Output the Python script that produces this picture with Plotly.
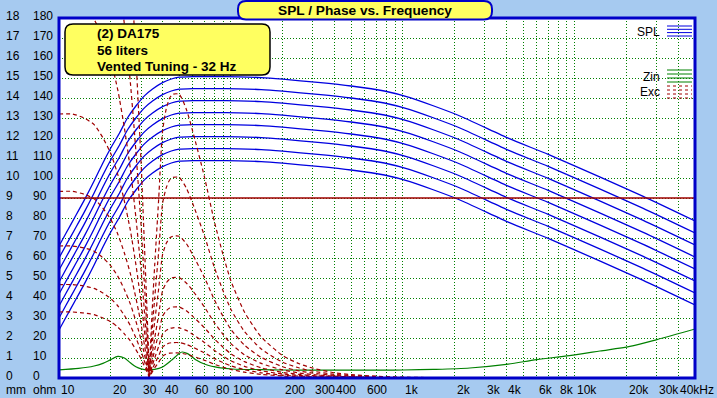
import math
import plotly.graph_objects as go

# ---------------- data ----------------
# SPL (dB) vs frequency, eight input levels
F_SPL = [10, 11, 12.5, 14, 16, 18, 20, 22.5, 25, 28, 31.5, 35, 40, 45, 50, 60, 80, 110, 150, 200,
         320, 500, 780, 1100, 2080, 4130, 7000, 14160, 25000, 50000]
SPL_1 = [24, 30.5, 39.1, 46.8, 56.5, 65.5, 73, 80.5, 88, 94, 99.2, 102.5, 105.7, 107.5, 108.4, 108.7, 108.7, 108.6, 108.2, 107.4,
         105.8, 104, 101.5, 98.2, 89.5, 77.8, 69.8, 58.3, 48.8, 36.5]
SPL_2 = [30, 36.5, 45.1, 52.8, 62.5, 71.5, 79, 86.5, 94, 100, 105.2, 108.5, 111.7, 113.5, 114.4, 114.7, 114.7, 114.6, 114.2, 113.4,
         111.8, 110, 107.5, 104.2, 95.5, 83.8, 75.8, 64.3, 54.8, 42.5]
SPL_3 = [36, 42.5, 51.1, 58.8, 68.5, 77.5, 85, 92.5, 100, 106, 111.2, 114.5, 117.7, 119.5, 120.4, 120.7, 120.7, 120.6, 120.2, 119.4,
         117.8, 116, 113.5, 110.2, 101.5, 89.8, 81.8, 70.3, 60.8, 48.5]
SPL_4 = [42, 48.5, 57.1, 64.8, 74.5, 83.5, 91, 98.5, 106, 112, 117.2, 120.5, 123.7, 125.5, 126.4, 126.7, 126.7, 126.6, 126.2, 125.4,
         123.8, 122, 119.5, 116.2, 107.5, 95.8, 87.8, 76.3, 66.8, 54.5]
SPL_5 = [48, 54.5, 63.1, 70.8, 80.5, 89.5, 97, 104.5, 112, 118, 123.2, 126.5, 129.7, 131.5, 132.4, 132.7, 132.7, 132.6, 132.2, 131.4,
         129.8, 128, 125.5, 122.2, 113.5, 101.8, 93.8, 82.3, 72.8, 60.5]
SPL_6 = [54, 60.5, 69.1, 76.8, 86.5, 95.5, 103, 110.5, 118, 124, 129.2, 132.5, 135.7, 137.5, 138.4, 138.7, 138.7, 138.6, 138.2, 137.4,
         135.8, 134, 131.5, 128.2, 119.5, 107.8, 99.8, 88.3, 78.8, 66.5]
SPL_7 = [60, 66.5, 75.1, 82.8, 92.5, 101.5, 109, 116.5, 124, 130, 135.2, 138.5, 141.7, 143.5, 144.4, 144.7, 144.7, 144.6, 144.2, 143.4,
         141.8, 140, 137.5, 134.2, 125.5, 113.8, 105.8, 94.3, 84.8, 72.5]
SPL_8 = [66, 72.5, 81.1, 88.8, 98.5, 107.5, 115, 122.5, 130, 136, 141.2, 144.5, 147.7, 149.5, 150.4, 150.7, 150.7, 150.6, 150.2, 149.4,
         147.8, 146, 143.5, 140.2, 131.5, 119.8, 111.8, 100.3, 90.8, 78.5]
SPL_SERIES = [SPL_1, SPL_2, SPL_3, SPL_4, SPL_5, SPL_6, SPL_7, SPL_8]

# Impedance (ohm)
F_ZIN = [10, 13, 16, 18, 20, 22, 24, 26, 28, 30, 33, 36, 40, 45, 50, 52, 56, 62, 72, 85, 102, 150, 200, 300, 500,
         800, 1000, 1500, 2450, 4000, 6000, 9300, 14000, 20900, 30000, 50000]
ZIN = [4.1, 4.8, 6.0, 7.3, 9.2, 10.8, 10.0, 7.6, 5.6, 4.6, 4.1, 4.3, 5.5, 8.8, 12.3, 13.0, 12.2, 9.3, 6.6, 5.2, 4.5, 4.2, 4.0, 3.9, 3.9,
       3.9, 4.0, 4.3, 5.0, 6.8, 9.2, 11.2, 13.5, 15.8, 19.2, 24.5]

# Cone excursion (mm), eight input levels
F_EXC = [10, 12, 14, 16, 18, 20, 22, 24, 26, 28, 29, 30, 31, 32, 33, 33.5, 34, 35, 36, 38,
         40, 42, 44, 46, 50, 55, 60, 70, 80, 90, 100, 120, 150, 200, 250, 300, 400, 500, 700, 1000,
         2000, 5000, 50000]
EXC_1 = [3.30, 3.30, 3.25, 3.17, 3.00, 2.81, 2.54, 2.21, 1.85, 1.42, 1.19, 0.96, 0.69, 0.43, 0.17, 0.03, 0.13, 0.33, 0.50, 0.79,
         1.09, 1.19, 1.24, 1.25, 1.25, 1.19, 1.09, 0.89, 0.69, 0.54, 0.43, 0.29, 0.18, 0.10, 0.06, 0.04, 0.02, 0.01, 0.01, 0.0,
         0.0, 0.0, 0.0]
EXC_2 = [4.67, 4.67, 4.60, 4.48, 4.25, 3.97, 3.60, 3.13, 2.62, 2.01, 1.68, 1.35, 0.98, 0.61, 0.23, 0.05, 0.19, 0.47, 0.70, 1.12,
         1.54, 1.68, 1.75, 1.77, 1.77, 1.68, 1.54, 1.26, 0.98, 0.77, 0.61, 0.41, 0.26, 0.14, 0.09, 0.06, 0.03, 0.02, 0.01, 0.01,
         0.0, 0.0, 0.0]
EXC_3 = [6.60, 6.60, 6.50, 6.34, 6.01, 5.61, 5.08, 4.42, 3.70, 2.84, 2.38, 1.91, 1.39, 0.86, 0.33, 0.07, 0.26, 0.66, 0.99, 1.58,
         2.18, 2.38, 2.48, 2.51, 2.51, 2.38, 2.18, 1.78, 1.39, 1.09, 0.86, 0.58, 0.36, 0.20, 0.13, 0.09, 0.05, 0.03, 0.02, 0.01,
         0.0, 0.0, 0.0]
EXC_4 = [9.33, 9.33, 9.19, 8.96, 8.49, 7.93, 7.18, 6.25, 5.22, 4.01, 3.36, 2.71, 1.96, 1.21, 0.47, 0.09, 0.37, 0.93, 1.40, 2.24,
         3.08, 3.36, 3.50, 3.55, 3.55, 3.36, 3.08, 2.52, 1.96, 1.54, 1.21, 0.82, 0.51, 0.28, 0.18, 0.12, 0.07, 0.04, 0.02, 0.01,
         0.0, 0.0, 0.0]
EXC_5 = [13.20, 13.20, 13.00, 12.67, 12.01, 11.22, 10.16, 8.84, 7.39, 5.68, 4.75, 3.83, 2.77, 1.72, 0.66, 0.13, 0.53, 1.32, 1.98, 3.17,
         4.36, 4.75, 4.95, 5.02, 5.02, 4.75, 4.36, 3.56, 2.77, 2.18, 1.72, 1.16, 0.73, 0.40, 0.25, 0.17, 0.09, 0.06, 0.03, 0.01,
         0.0, 0.0, 0.0]
EXC_6 = [18.67, 18.67, 18.39, 17.92, 16.99, 15.87, 14.38, 12.51, 10.46, 8.03, 6.72, 5.41, 3.92, 2.43, 0.93, 0.19, 0.75, 1.87, 2.80, 4.48,
         6.16, 6.72, 7.00, 7.09, 7.09, 6.72, 6.16, 5.04, 3.92, 3.08, 2.43, 1.64, 1.03, 0.56, 0.35, 0.24, 0.13, 0.08, 0.04, 0.02,
         0.01, 0.0, 0.0]
EXC_7 = [26.40, 26.40, 26.00, 25.34, 24.02, 22.44, 20.33, 17.69, 14.78, 11.35, 9.50, 7.66, 5.54, 3.43, 1.32, 0.26, 1.06, 2.64, 3.96, 6.34,
         8.71, 9.50, 9.90, 10.03, 10.03, 9.50, 8.71, 7.13, 5.54, 4.36, 3.43, 2.32, 1.45, 0.79, 0.50, 0.34, 0.18, 0.12, 0.06, 0.03,
         0.01, 0.0, 0.0]
EXC_8 = [37.34, 37.34, 36.78, 35.85, 33.98, 31.74, 28.75, 25.02, 20.91, 16.06, 13.44, 10.83, 7.84, 4.85, 1.87, 0.37, 1.49, 3.73, 5.60, 8.96,
         12.32, 13.44, 14.00, 14.19, 14.19, 13.44, 12.32, 10.08, 7.84, 6.16, 4.85, 3.29, 2.05, 1.12, 0.71, 0.49, 0.26, 0.17, 0.09, 0.04,
         0.01, 0.0, 0.0]
EXC_SERIES = [EXC_1, EXC_2, EXC_3, EXC_4, EXC_5, EXC_6, EXC_7, EXC_8]

XMAX_MM = 9.0  # excursion limit line

# axis tick labels
X_TICK_VALUES = [10, 20, 30, 40, 60, 80, 100, 200, 300, 400, 600, 1000, 2000, 3000, 4000, 6000, 8000,
                 10000, 20000, 30000, 40000]
X_TICK_TEXT = ["10", "20", "30", "40", "60", "80", "100", "200", "300", "400", "600", "1k", "2k", "3k", "4k",
               "6k", "8k", "10k", "20k", "30k", "40kHz"]
OHM_TICKS = [0, 10, 20, 30, 40, 50, 60, 70, 80, 90, 100, 110, 120, 130, 140, 150, 160, 170, 180]
MM_TICKS = [0, 1, 2, 3, 4, 5, 6, 7, 8, 9, 10, 11, 12, 13, 14, 15, 16, 17, 18]
X_GRID = [m * d for d in (10, 100, 1000, 10000) for m in range(1, 10)] + [50000]

TITLE = "SPL / Phase vs. Frequency"
INFO = ["(2) DA175", "56 liters", "Vented Tuning - 32 Hz"]

# ---------------- layout helpers (pixel -> paper) ----------------
W, H = 717, 398
ML, MR, MT, MB = 59, 22, 18, 20
PW, PH = W - ML - MR, H - MT - MB


def px(x):
    return (x - ML) / PW


def py(y):
    return (H - MB - y) / PH


def rounded_path(x0, y0, x1, y1, r):
    pts = [
        ("M", [(x0 + r, y0)]), ("L", [(x1 - r, y0)]), ("Q", [(x1, y0), (x1, y0 + r)]),
        ("L", [(x1, y1 - r)]), ("Q", [(x1, y1), (x1 - r, y1)]), ("L", [(x0 + r, y1)]),
        ("Q", [(x0, y1), (x0, y1 - r)]), ("L", [(x0, y0 + r)]), ("Q", [(x0, y0), (x0 + r, y0)]),
    ]
    s = ""
    for cmd, ps in pts:
        s += cmd + " " + " ".join(f"{px(a):.5f},{py(b):.5f}" for a, b in ps) + " "
    return s + "Z"


FONT = "Liberation Sans, Arial, sans-serif"
BLUE = "#0000E0"
RED = "#A00000"
GREEN = "#008000"

fig = go.Figure()

for ys in EXC_SERIES:
    fig.add_trace(go.Scatter(x=F_EXC, y=ys, yaxis="y2", mode="lines",
                             line=dict(color=RED, width=1.2, dash="4px,3px", shape="spline", smoothing=0.6),
                             hoverinfo="skip", showlegend=False))

fig.add_trace(go.Scatter(x=[F_SPL[0], F_SPL[-1]], y=[XMAX_MM, XMAX_MM], yaxis="y2", mode="lines",
                         line=dict(color=RED, width=1.5), hoverinfo="skip", showlegend=False))

fig.add_trace(go.Scatter(x=F_ZIN, y=ZIN, mode="lines",
                         line=dict(color=GREEN, width=1.2, shape="spline", smoothing=0.8),
                         hoverinfo="skip", showlegend=False))

for ys in SPL_SERIES:
    fig.add_trace(go.Scatter(x=F_SPL, y=ys, mode="lines",
                             line=dict(color=BLUE, width=1.3, shape="spline", smoothing=0.6),
                             hoverinfo="skip", showlegend=False))

shapes = []
# plot frame
shapes.append(dict(type="rect", xref="paper", yref="paper", x0=0, x1=1, y0=0, y1=1,
                   line=dict(color="#0000C8", width=3), layer="above"))
# title box
shapes.append(dict(type="path", xref="paper", yref="paper", path=rounded_path(238, 1, 492, 19.5, 8),
                   fillcolor="#FFFF60", line=dict(color="#0000C8", width=2), layer="above"))
# info box
shapes.append(dict(type="path", xref="paper", yref="paper", path=rounded_path(65, 24, 270, 75, 8),
                   fillcolor="#FFFF60", line=dict(color="black", width=1.5), layer="above"))
# legend glyphs
for yy in (26, 29.3, 32.6, 36):
    shapes.append(dict(type="line", xref="paper", yref="paper", x0=px(667), x1=px(692), y0=py(yy), y1=py(yy),
                       line=dict(color=BLUE, width=1), layer="above"))
for yy in (70, 74, 78, 82):
    shapes.append(dict(type="line", xref="paper", yref="paper", x0=px(667), x1=px(692), y0=py(yy), y1=py(yy),
                       line=dict(color=GREEN, width=1), layer="above"))
for yy in (86, 90, 94, 98):
    shapes.append(dict(type="line", xref="paper", yref="paper", x0=px(667), x1=px(692), y0=py(yy), y1=py(yy),
                       line=dict(color=RED, width=1, dash="3px,3px"), layer="above"))

ann = []
ann.append(dict(text="<b>" + TITLE + "</b>", xref="paper", yref="paper", x=px(365), y=py(10), showarrow=False,
                xanchor="center", yanchor="middle", font=dict(family=FONT, size=13.7, color="black")))
for i, line in enumerate(INFO):
    ann.append(dict(text="<b>" + line + "</b>", xref="paper", yref="paper", x=px(95), y=py(34 + 16.5 * i),
                    showarrow=False, xanchor="left", yanchor="middle",
                    font=dict(family=FONT, size=13.5, color="black")))
for txt, yy in (("SPL", 32), ("Zin", 77), ("Exc", 91.5)):
    ann.append(dict(text=txt, xref="paper", yref="paper", x=px(662), y=py(yy), showarrow=False,
                    xanchor="right", yanchor="middle", font=dict(family=FONT, size=12, color="black")))
for v, t in zip(X_TICK_VALUES, X_TICK_TEXT):
    ann.append(dict(text=t, xref="x", yref="paper", x=math.log10(v), y=py(390), xshift=0, showarrow=False,
                    xanchor="left", yanchor="middle", font=dict(family=FONT, size=12, color="black")))
for o, m in zip(OHM_TICKS, MM_TICKS):
    ann.append(dict(text=str(o), xref="paper", yref="y", x=px(31), y=o, yshift=2.5, showarrow=False,
                    xanchor="left", yanchor="middle", font=dict(family=FONT, size=12, color="black")))
    ann.append(dict(text=str(m), xref="paper", yref="y", x=px(4), y=o, yshift=2.5, showarrow=False,
                    xanchor="left", yanchor="middle", font=dict(family=FONT, size=12, color="black")))
ann.append(dict(text="mm", xref="paper", yref="paper", x=px(4), y=py(390), showarrow=False,
                xanchor="left", yanchor="middle", font=dict(family=FONT, size=12, color="black")))
ann.append(dict(text="ohm", xref="paper", yref="paper", x=px(31), y=py(390), showarrow=False,
                xanchor="left", yanchor="middle", font=dict(family=FONT, size=12, color="black")))

grid = dict(showgrid=True, gridcolor=GREEN, gridwidth=1, griddash="1px,2px", zeroline=False,
            showline=False, ticks="", showticklabels=False)

fig.update_layout(
    width=W, height=H, autosize=False,
    margin=dict(l=ML, r=MR, t=MT, b=MB, pad=0),
    paper_bgcolor="#A6CAF0", plot_bgcolor="white",
    xaxis=dict(type="log", range=[1, math.log10(50000)], tickmode="array", tickvals=X_GRID, **grid),
    yaxis=dict(range=[0, 180], tickmode="array", tickvals=OHM_TICKS, **grid),
    yaxis2=dict(range=[0, 18], overlaying="y", visible=False, showgrid=False, zeroline=False),
    shapes=shapes, annotations=ann, showlegend=False,
)

fig.write_html("out.html", config={"displayModeBar": False},
               post_script="document.body.style.margin='0px';document.body.style.overflow='hidden';")
